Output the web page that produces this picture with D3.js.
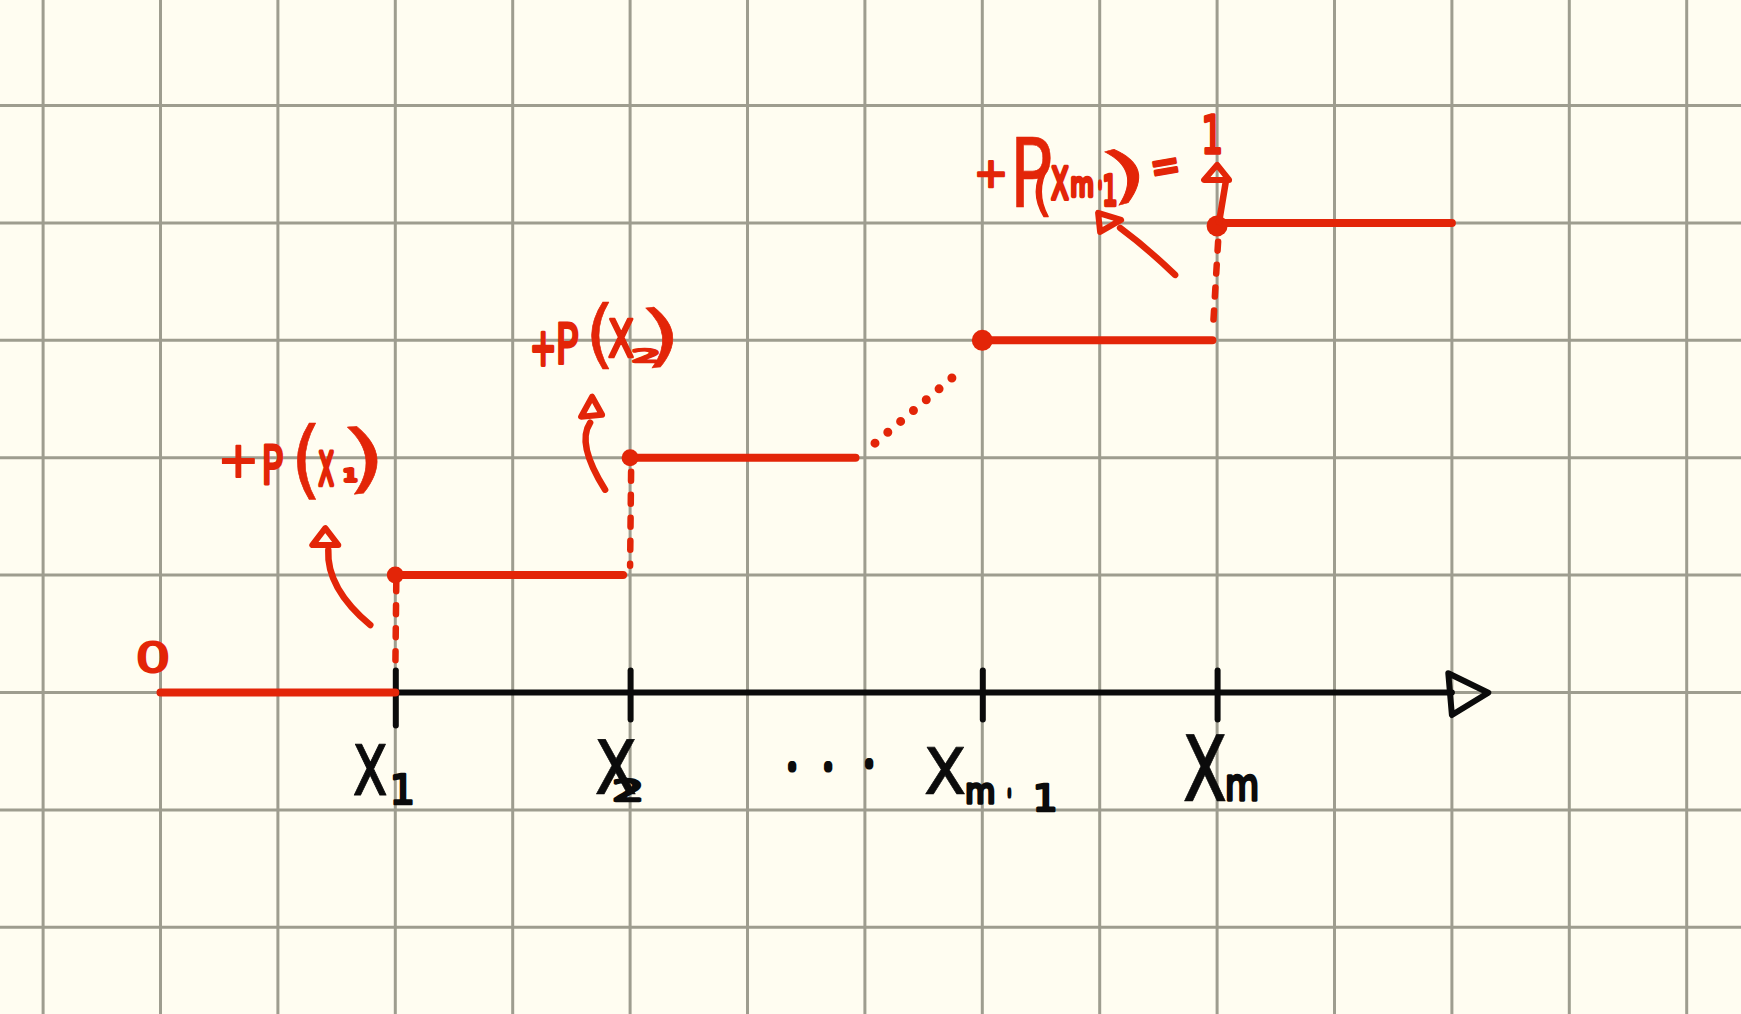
<!DOCTYPE html>
<html><head><meta charset="utf-8">
<script src="https://cdn.jsdelivr.net/npm/d3@7"></script>
<style>html,body{margin:0;padding:0;background:#fffdf1;overflow:hidden}svg{display:block}</style>
</head><body>
<svg id="c" width="1741" height="1014"></svg>
<script>
// ---------- data ----------
const gridCols   = d3.range(0, 15);                 // grid columns (x units)
const gridRows   = d3.range(-0.5, 1.26, 0.25);      // grid rows (F units)
const stepLevels = [0, 0.25, 0.5, 0.75, 1];         // cumulative F(x) on each step
const stepFrom   = [1, 3, 5, 8, 10];                // step start (x units)
const stepTo     = [3, 4.94, 6.92, 9.96, 12];       // step end (x units)
const jumpAt     = [3, 5, 8, 10];                   // x1, x2, x_{m-1}, x_m
const tickSymbols = ["x1", "x2", "xm-1", "xm"];
const ellipsisLabel = "···";
const jumpLabels = ["+P(x1)", "+P(x2)", "+P(xm-1)=1"];
const zeroLabel  = "0";
const dashAt     = [3, 5, 10];
const dashFrom   = [0.235, 0.47, 0.96];
const dashTo     = [0.04, 0.27, 0.78];
const gapFrom    = [7.086, 0.531];
const gapTo      = [7.742, 0.670];

// ---------- setup ----------
const RED = "#e32508", BLACK = "#0b0b0b", GRID = "#9e9d8f";
const svg = d3.select("#c");
svg.append("rect").attr("width",1741).attr("height",1014).attr("fill","#fffdf1");
const x = d3.scaleLinear().domain([0, 14]).range([43.1, 1686.7]);
const y = d3.scaleLinear().domain([0, 1]).range([692.5, 222.9]);

// grid
const grid = svg.append("g").attr("stroke", GRID).attr("stroke-width", 3);
grid.selectAll("line.v").data(gridCols).join("line").attr("class","v")
  .attr("x1", d => x(d)).attr("x2", d => x(d)).attr("y1", 0).attr("y2", 1014);
grid.selectAll("line.h").data(gridRows).join("line").attr("class","h")
  .attr("y1", d => y(d)).attr("y2", d => y(d)).attr("x1", 0).attr("x2", 1741);

// axis line + arrow
const y0 = y(0);
svg.append("line").attr("x1", x(3)).attr("x2", x(12)).attr("y1", y0).attr("y2", y0)
  .attr("stroke", BLACK).attr("stroke-width", 6).attr("stroke-linecap","round");
const ax12 = x(12);
svg.append("path")
  .attr("d", `M${ax12-3.6},${y0-19.2} L${ax12+36.4},${y0+0.2} L${ax12},${y0+22.5} Z`)
  .attr("fill","none").attr("stroke", BLACK).attr("stroke-width", 6).attr("stroke-linejoin","round");

// ticks via d3 axis
const axisG = svg.append("g").attr("transform", `translate(0,${y0})`)
  .call(d3.axisBottom(x).tickValues(jumpAt).tickSize(28).tickSizeOuter(0).tickFormat(""));
axisG.select(".domain").remove();
axisG.selectAll(".tick line").attr("y1", -22).attr("y2", (d,i) => i === 0 ? 33 : 27)
  .attr("stroke", BLACK).attr("stroke-width", 6).attr("stroke-linecap","round");

// steps
svg.append("g").selectAll("line").data(stepLevels).join("line")
  .attr("x1", (d,i) => x(stepFrom[i])).attr("x2", (d,i) => x(stepTo[i]))
  .attr("y1", d => y(d)).attr("y2", d => y(d))
  .attr("stroke", RED).attr("stroke-width", 8).attr("stroke-linecap","round");

// dashed verticals
svg.append("g").selectAll("line").data(dashAt).join("line")
  .attr("x1", d => x(d)+1).attr("x2", (d,i) => x(d) + (i===2 ? -4 : 0))
  .attr("y1", (d,i) => y(dashFrom[i])).attr("y2", (d,i) => y(dashTo[i]))
  .attr("stroke", RED).attr("stroke-width", 6.5).attr("stroke-linecap","round")
  .attr("stroke-dasharray","9 14");

// dotted gap
svg.append("line").attr("x1", x(gapFrom[0])).attr("y1", y(gapFrom[1]))
  .attr("x2", x(gapTo[0])).attr("y2", y(gapTo[1]))
  .attr("stroke", RED).attr("stroke-width", 9).attr("stroke-linecap","round")
  .attr("stroke-dasharray","0 16.8");

// dots at jumps
svg.append("g").selectAll("circle").data(jumpAt).join("circle")
  .attr("cx", d => x(d)).attr("cy", (d,i) => y(stepLevels[i+1]) + (i===3 ? 3 : 0))
  .attr("r", (d,i) => i < 2 ? 8.5 : 10.5).attr("fill", RED);

// ---------- hand-lettered glyph text ----------
// [ink width em, ink height em, ink centre above baseline em]
const M = {"+":[0.627,0.627,0.313],"P":[0.48,0.729,0.3645],"(":[0.2,0.89,0.314],")":[0.2,0.89,0.314],
  "x":[0.55,0.547,0.2735],"m":[0.8,0.547,0.2735],"1":[0.44,0.729,0.3645],"2":[0.48,0.74,0.367],
  "0":[0.5,0.75,0.364],"-":[0.27,0.08,0.27],"=":[0.627,0.27,0.36],"·":[0.1,0.1,0.33]};
function drawGlyphs(text, ax, ay, layout, color, pen) {
  const g = svg.append("g");
  Array.from(text).forEach((ch, i) => {
    const [dx, dy, w, h, rot = 0] = layout[i];
    const m = M[ch];
    // first pass without stroke to estimate natural stem width
    let size = h / m[1], sx = w / (m[0] * size);
    let sw = Math.min(Math.max(pen - 0.09 * size * Math.min(sx, 1), 0.6), pen);
    if (ch === "·" || ch === "-") sw = pen;
    size = Math.max(h - sw, 2) / m[1];
    sx = Math.max(w - sw, 1.5) / (m[0] * size);
    sx = Math.min(Math.max(sx, 0.25), 2.5);
    g.append("text")
      .attr("transform", `translate(${ax+dx},${ay+dy}) rotate(${rot}) scale(${sx},1)`)
      .attr("x", 0).attr("y", m[2] * size)
      .attr("text-anchor", "middle")
      .attr("font-family", "DejaVu Sans").attr("font-size", size)
      .attr("fill", color).attr("stroke", color).attr("stroke-width", sw)
      .attr("stroke-linejoin", "round").attr("stroke-linecap","round")
      .attr("vector-effect","non-scaling-stroke")
      .text(ch);
  });
}
const PEN_R = 6.5, PEN_B = 6.5;

// jump labels
const labelLayouts = [
  [[-157,-114,33,33],[-123,-111,20,42],[-89,-114,17,77],[-69,-107,18,37],[-45,-100,14,16],[-31,-116,24,68,-6]],
  [[-87,-109,23,35],[-63,-115,21,43],[-30,-122,16,67],[-9,-120,27,40],[16,-102,27,18],[31,-121,22,61,-6]],
  [[-226,-49,28,28],[-186,-51,35,71],[-175,-31,12,50],[-157,-40,20,35],[-135,-35,23,21],[-117,-38,8,6],
   [-107,-33,14,34],[-92,-48,25,56,-15],[-52,-58,25,15,-10],[-5,-88,18,40]]
];
const labelAnchors = [[jumpAt[0], stepLevels[1]], [jumpAt[1], stepLevels[2]], [jumpAt[3], stepLevels[4]]];
jumpLabels.forEach((t, i) => drawGlyphs(t, x(labelAnchors[i][0]), y(labelAnchors[i][1]), labelLayouts[i], RED, PEN_R));

// zero label
drawGlyphs(zeroLabel, x(stepFrom[0]), y(stepLevels[0]), [[-7.5,-35.5,30,33]], RED, PEN_R);

// tick labels
const tickLayouts = [
  [[-25,76.5,34,52],[7,96.5,20,32]],
  [[-14,74.5,41,55],[-2,97.5,28,26]],
  [[-37,78.5,41,47],[-2,101.5,28,22],[27,100.5,8,7],[63,104.5,20,30]],
  [[-12,75.5,43,67],[25,95.5,31,27]]
];
tickSymbols.forEach((t, i) => drawGlyphs(t, x(jumpAt[i]), y0, tickLayouts[i], BLACK, PEN_B));
drawGlyphs(ellipsisLabel, x(6.5), y0, [[-14,75,9,9],[22,75,9,9],[63,72,9,9]], BLACK, 8);

// ---------- arrows ----------
function arrow(ax, ay, curve, tri) {
  svg.append("path").attr("d", curve(ax, ay)).attr("fill","none").attr("stroke", RED)
    .attr("stroke-width", 6.5).attr("stroke-linecap","round");
  svg.append("path").attr("d", `M${ax+tri[0][0]},${ay+tri[0][1]} L${ax+tri[1][0]},${ay+tri[1][1]} L${ax+tri[2][0]},${ay+tri[2][1]} Z`)
    .attr("fill","none").attr("stroke", RED).attr("stroke-width", 6).attr("stroke-linejoin","round");
}
const A1 = [x(jumpAt[0]), y(stepLevels[1])], A2 = [x(jumpAt[1]), y(stepLevels[2])], A3 = [x(jumpAt[3]), y(stepLevels[4])];
arrow(A1[0], A1[1], (ax, ay) => `M${ax-25},${ay+50} Q${ax-69},${ay+13} ${ax-67},${ay-25}`,
  [[-70,-47],[-83,-30],[-57,-30]]);
arrow(A2[0], A2[1], (ax, ay) => `M${ax-25},${ay+32} Q${ax-54},${ay-14} ${ax-40},${ay-35}`,
  [[-38,-61],[-49,-41],[-28,-43]]);
arrow(A3[0], A3[1], (ax, ay) => `M${ax+2},${ay-1} L${ax+9},${ay-43}`,
  [[0,-58],[-13,-43],[12,-43]]);
arrow(A3[0], A3[1], (ax, ay) => `M${ax-42},${ay+52} Q${ax-70},${ay+25} ${ax-97},${ay+5}`,
  [[-119,-10],[-117,9],[-96,-3]]);
</script>
</body></html>
